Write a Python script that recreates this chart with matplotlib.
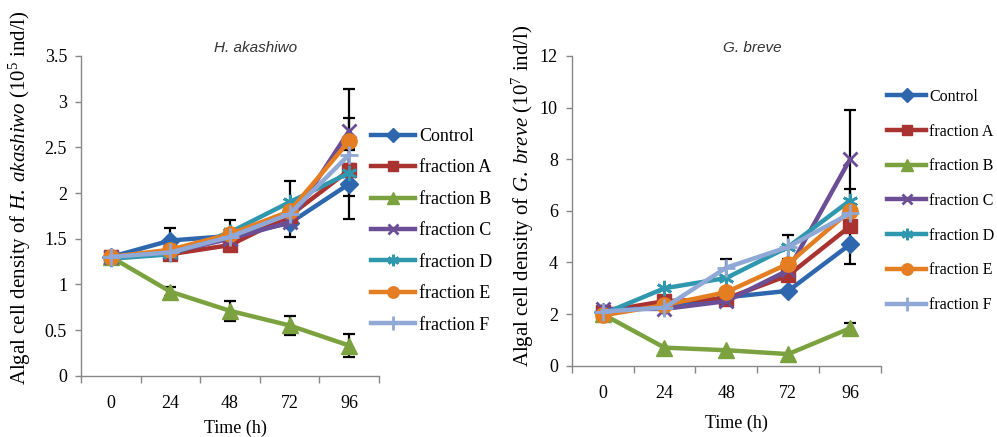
import matplotlib
matplotlib.use("Agg")
import matplotlib.pyplot as plt
import numpy as np

plt.rcParams['font.family'] = ['Liberation Serif', 'DejaVu Serif']
plt.rcParams['mathtext.fontset'] = 'custom'
plt.rcParams['mathtext.rm'] = 'Liberation Serif'
plt.rcParams['mathtext.it'] = 'Liberation Serif:italic'

time_labels = ["0", "24", "48", "72", "96"]
series_names = ["Control", "fraction A", "fraction B", "fraction C",
                "fraction D", "fraction E", "fraction F"]

# H. akashiwo (10^5 ind/l)
ha_control = [1.30, 1.48, 1.53, 1.67, 2.10]
ha_A = [1.30, 1.33, 1.43, 1.75, 2.25]
ha_B = [1.30, 0.92, 0.71, 0.55, 0.33]
ha_C = [1.30, 1.35, 1.50, 1.68, 2.68]
ha_D = [1.28, 1.33, 1.57, 1.90, 2.22]
ha_E = [1.30, 1.38, 1.55, 1.80, 2.57]
ha_F = [1.30, 1.35, 1.52, 1.77, 2.42]
ha_err_control = [0.0, 0.14, 0.05, 0.15, 0.38]
ha_err_A = [0.0, 0.0, 0.0, 0.0, 0.0]
ha_err_B = [0.0, 0.05, 0.11, 0.10, 0.13]
ha_err_C = [0.0, 0.0, 0.0, 0.0, 0.46]
ha_err_D = [0.0, 0.0, 0.13, 0.23, 0.25]
ha_err_E = [0.0, 0.0, 0.0, 0.0, 0.25]
ha_err_F = [0.0, 0.0, 0.0, 0.0, 0.0]

# G. breve (10^7 ind/l)
gb_control = [2.10, 2.30, 2.65, 2.90, 4.70]
gb_A = [2.10, 2.50, 2.60, 3.50, 5.40]
gb_B = [2.00, 0.70, 0.60, 0.45, 1.45]
gb_C = [2.20, 2.20, 2.50, 3.70, 8.00]
gb_D = [2.00, 3.00, 3.40, 4.60, 6.40]
gb_E = [1.95, 2.35, 2.85, 3.95, 6.00]
gb_F = [2.10, 2.25, 3.80, 4.60, 5.90]
gb_err_control = [0.0, 0.0, 0.0, 0.0, 0.75]
gb_err_A = [0.0, 0.0, 0.0, 0.0, 0.0]
gb_err_B = [0.0, 0.0, 0.0, 0.0, 0.20]
gb_err_C = [0.0, 0.0, 0.0, 0.0, 1.90]
gb_err_D = [0.0, 0.0, 0.0, 0.0, 0.45]
gb_err_E = [0.0, 0.0, 0.0, 0.0, 0.0]
gb_err_F = [0.0, 0.0, 0.35, 0.45, 0.0]

ha_values = [ha_control, ha_A, ha_B, ha_C, ha_D, ha_E, ha_F]
ha_errors = [ha_err_control, ha_err_A, ha_err_B, ha_err_C, ha_err_D, ha_err_E, ha_err_F]
gb_values = [gb_control, gb_A, gb_B, gb_C, gb_D, gb_E, gb_F]
gb_errors = [gb_err_control, gb_err_A, gb_err_B, gb_err_C, gb_err_D, gb_err_E, gb_err_F]

colors = ["#2F67AE", "#A93330", "#7BA23F", "#6B4E96", "#2F97AE", "#E57E22", "#8FA8D6"]
markers = ["D", "s", "^", "x", (6, 2, 0), "o", "+"]
msizes = [9.5, 10, 11.5, 10, 11, 11, 13]
mews = [1, 1, 1, 2, 2, 1, 2]

fig = plt.figure(figsize=(9.97, 4.37), dpi=100)
W, H = 997.0, 437.0


def add_axes_px(x0, x1, ytop, ybot):
    return fig.add_axes([x0 / W, 1 - ybot / H, (x1 - x0) / W, (ybot - ytop) / H])


def draw_panel(ax, values, errors, ymax, ystep, title, title_xy, ylabel, ylab_size,
               ylab_xy, xlab_xy, leg_anchor, leg_size, leg_spacing):
    x = np.arange(len(time_labels))
    for vals, errs in zip(values, errors):
        errs = np.array(errs)
        mask = errs > 0
        if mask.any():
            ax.errorbar(x[mask], np.array(vals)[mask], yerr=errs[mask], fmt='none',
                        ecolor='black', elinewidth=1.6, capsize=4.5, capthick=1.6,
                        zorder=1)
    for i, (vals, name) in enumerate(zip(values, series_names)):
        ax.plot(x, vals, color=colors[i], lw=3.2, marker=markers[i],
                markersize=msizes[i], markeredgewidth=mews[i],
                markerfacecolor=colors[i], markeredgecolor=colors[i],
                label=name, zorder=2 + i)
    ax.set_xlim(-0.5, len(time_labels) - 0.5)
    ax.set_ylim(0, ymax)
    ax.set_xticks(x)
    ax.set_xticklabels(time_labels)
    ax.set_xticks(np.arange(-0.5, len(time_labels)), minor=True)
    ax.tick_params(axis='x', which='major', length=0, pad=14, labelsize=13)
    ax.tick_params(axis='x', which='minor', length=5, width=1, color='#888888',
                   direction='out')
    yt = np.arange(0, ymax + 1e-9, ystep)
    ax.set_yticks(yt)
    ax.set_yticklabels([("%g" % v) for v in yt])
    ax.tick_params(axis='y', which='major', length=4, width=1, color='#888888',
                   direction='out', pad=6, labelsize=13)
    for s in ['top', 'right']:
        ax.spines[s].set_visible(False)
    for s in ['left', 'bottom']:
        ax.spines[s].set_color('#888888')
        ax.spines[s].set_linewidth(1.0)
    ax.set_title(title, fontsize=11, style='italic',
                 family=['Liberation Sans', 'DejaVu Sans'], color='#333333')
    ax.title.set_position(title_xy)
    ax.title.set_va('center')
    ax.set_ylabel(ylabel, fontsize=ylab_size)
    ax.yaxis.set_label_coords(*ylab_xy)
    ax.yaxis.label.set_va('center')
    ax.set_xlabel("Time (h)", fontsize=13)
    ax.xaxis.set_label_coords(*xlab_xy)
    ax.xaxis.label.set_va('center')
    ax.legend(loc='upper left', bbox_to_anchor=leg_anchor,
              bbox_transform=fig.transFigure, frameon=False, fontsize=leg_size,
              borderpad=0, borderaxespad=0, handlelength=2.45,
              handletextpad=0.2, labelspacing=leg_spacing, markerscale=0.75)


ax1 = add_axes_px(81, 379, 56, 375.7)
ax2 = add_axes_px(571.7, 881, 56, 365.7)

draw_panel(ax1, ha_values, ha_errors, 3.5, 0.5, "H. akashiwo",
           (0.587, 1.056),
           r"Algal cell density of $\mathit{H.\ akashiwo}$ (10$^{5}$ ind/l)", 15,
           (-0.205, 0.556), (0.517, -0.164), (371 / W, 1 - 128 / H), 13, 0.8)
draw_panel(ax2, gb_values, gb_errors, 12, 2, "G. breve",
           (0.583, 1.100),
           r"Algal cell density of $\mathit{G.\ breve}$ (10$^{7}$ ind/l)", 15,
           (-0.157, 0.550), (0.534, -0.185), (887 / W, 1 - 89 / H), 11.5, 1.17)

fig.savefig("out.png", dpi=100)
